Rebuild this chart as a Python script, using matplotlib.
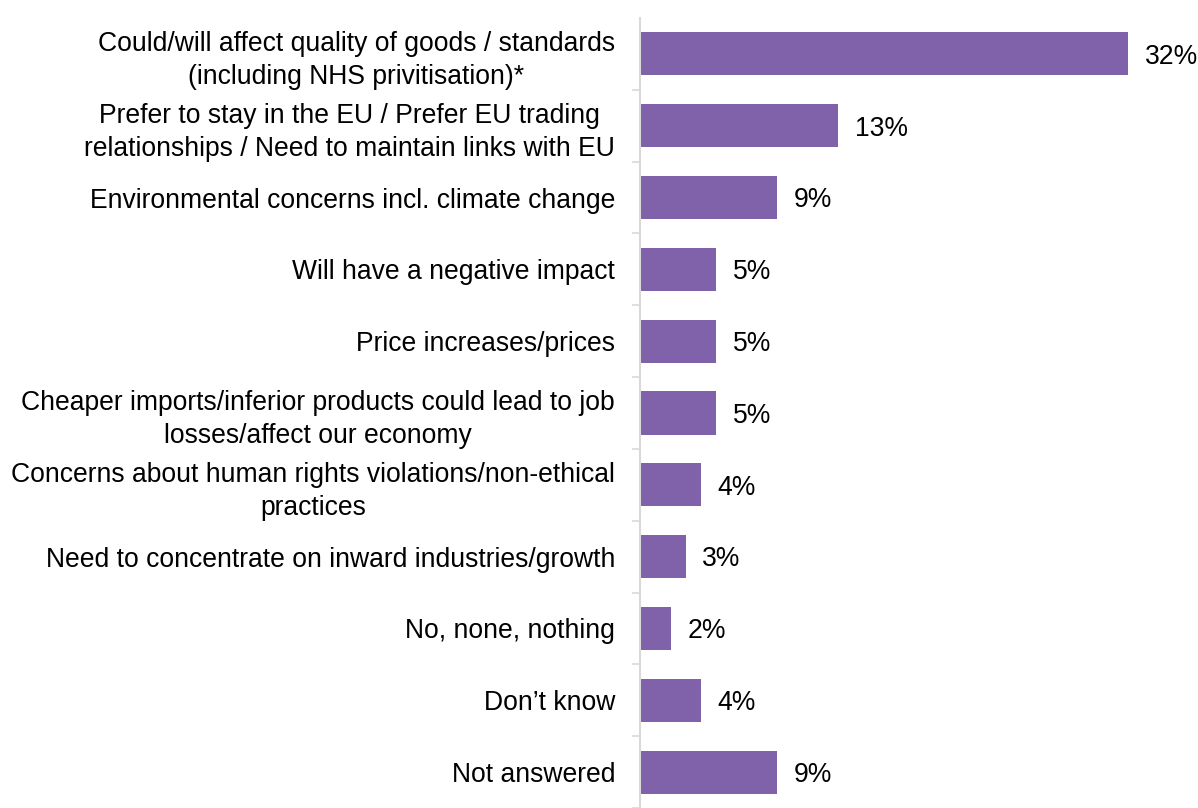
import matplotlib
matplotlib.use("Agg")
import matplotlib.pyplot as plt
import numpy as np

categories = [
    "Could/will affect quality of goods / standards\n(including NHS privitisation)*",
    "Prefer to stay in the EU / Prefer EU trading\nrelationships / Need to maintain links with EU",
    "Environmental concerns incl. climate change",
    "Will have a negative impact",
    "Price increases/prices",
    "Cheaper imports/inferior products could lead to job\nlosses/affect our economy",
    "Concerns about human rights violations/non-ethical\npractices",
    "Need to concentrate on inward industries/growth",
    "No, none, nothing",
    "Don\u2019t know",
    "Not answered",
]
values = [32, 13, 9, 5, 5, 5, 4, 3, 2, 4, 9]

plt.rcParams["font.family"] = ["Liberation Sans", "DejaVu Sans"]

W, H = 1198, 808
FS = 19.1
fig = plt.figure(figsize=(W / 100, H / 100), dpi=100)
ax_left = 640 / W
ax_top = 18
ax = fig.add_axes([ax_left, 0, 1 - ax_left, (H - ax_top) / H])

y = np.arange(len(categories))
bar_color = "#8062AA"
ax.barh(y, values, height=0.6, color=bar_color)

step = 72.5
ax.set_ylim(-0.5 + (H - ax_top) / step, -0.5)
ax.set_xlim(0, (W - 640) / 15.25)

for yi, v in zip(y, values):
    ax.annotate(f"{v}%", xy=(v, yi), xytext=(12, -2), textcoords="offset points",
                va="center", ha="left", fontsize=FS, color="#000000")

ax.set_yticks(y)
ax.set_yticklabels(categories, fontsize=FS, color="#000000", linespacing=1.36,
                   multialignment="center")
ax.set_yticks(np.arange(len(categories)) + 0.5, minor=True)
ax.tick_params(axis="y", which="major", length=0, pad=18)
ax.tick_params(axis="y", which="minor", length=6, width=1.2, color="#D9D9D9")
ax.set_xticks([])

for side in ("top", "right", "bottom"):
    ax.spines[side].set_visible(False)
ax.spines["left"].set_color("#D9D9D9")
ax.spines["left"].set_linewidth(1.5)

fig.savefig("out.png", dpi=100)
